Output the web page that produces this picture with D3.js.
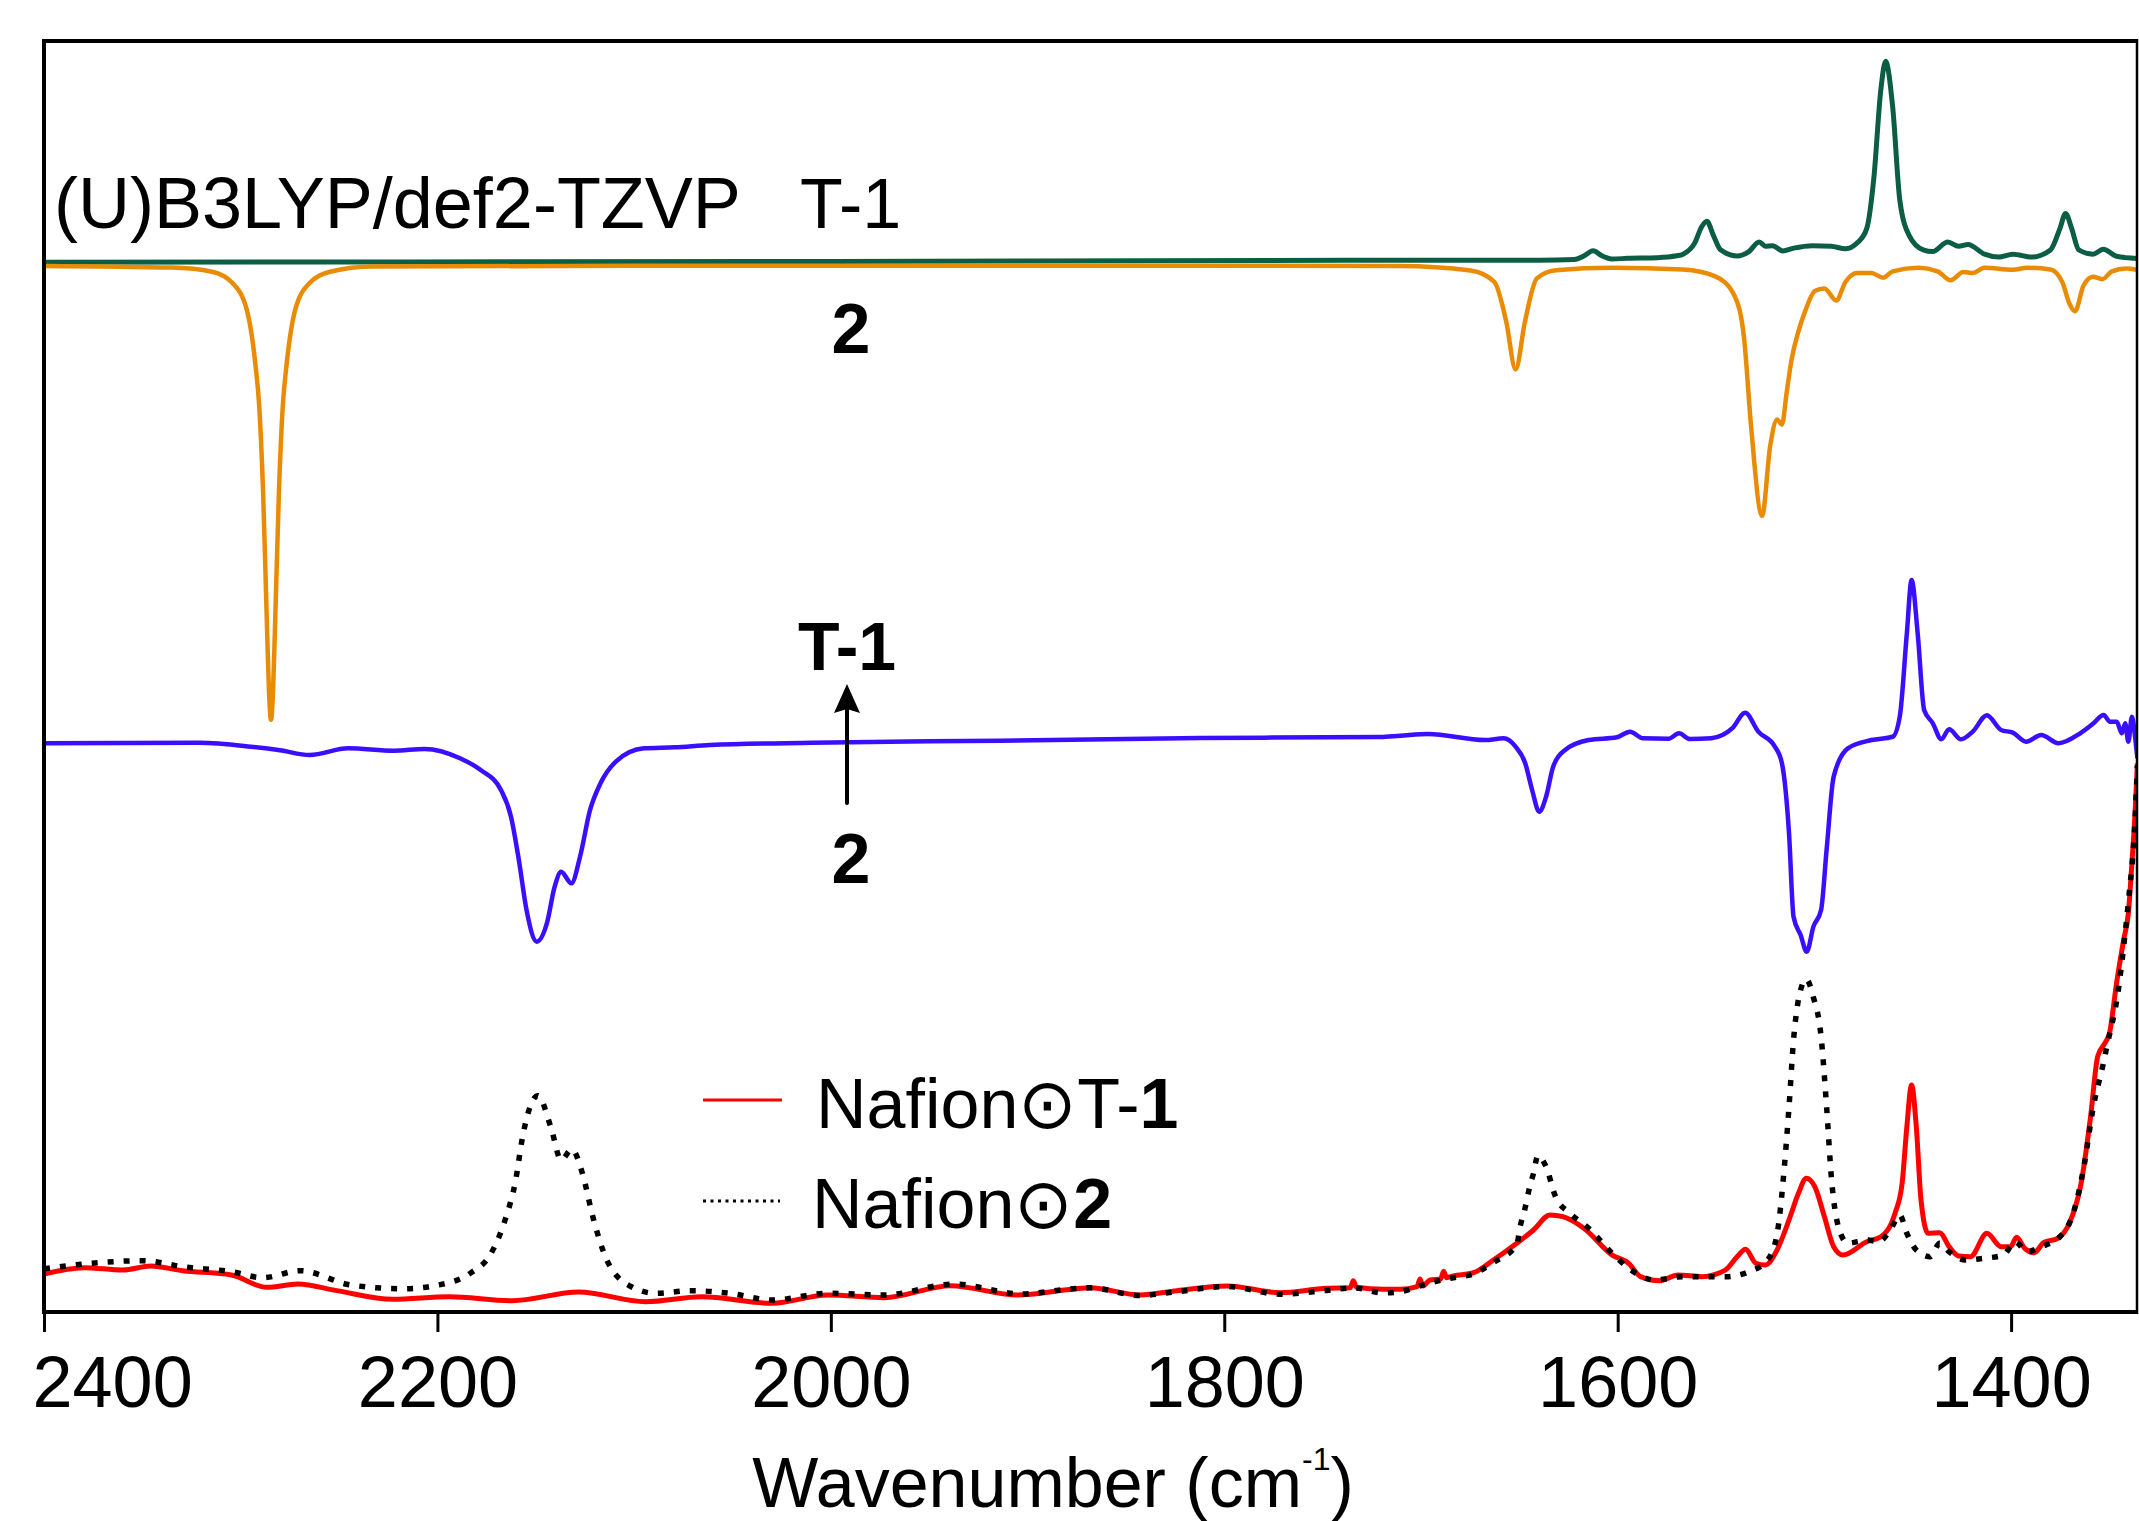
<!DOCTYPE html>
<html>
<head>
<meta charset="utf-8">
<title>IR spectra: T-1 vs 2</title>
<script src="https://cdn.jsdelivr.net/npm/d3@7"></script>
<style>
  html, body { margin: 0; padding: 0; background: #ffffff; }
  svg { display: block; }
  text { font-family: "Liberation Sans", Arial, Helvetica, sans-serif; fill: #000; }
</style>
</head>
<body>
<svg id="chart" width="2139" height="1521"></svg>
<script>
// ---- data: [wavenumber (cm-1), offset intensity (a.u.)] ----

// Calculated spectrum of T-1, (U)B3LYP/def2-TZVP
const calcT1 = [
  [2400, 82.6], [2000, 82.65], [1700, 82.75], [1640, 82.75], [1622, 82.8], [1617, 83.1],
  [1612.5, 83.5], [1608, 83.1], [1603, 82.85], [1595, 82.9], [1580, 82.95], [1570, 83.1],
  [1566.8, 83.23], [1560.8, 84.12], [1557.3, 85.39], [1554.7, 85.82], [1551.3, 84.69],
  [1547.7, 83.57], [1539.3, 83.09], [1533.3, 83.43], [1528.1, 84.19], [1524.9, 83.85],
  [1521.3, 83.9], [1516.1, 83.48], [1510.6, 83.7], [1500.9, 83.9], [1491.4, 83.85],
  [1484.2, 83.65], [1478.2, 84.12], [1473.4, 85.24], [1469.8, 89.18], [1466.2, 96.2],
  [1463.8, 98.4], [1460.2, 94.8], [1456.6, 87.5], [1451.8, 84.69], [1444.7, 83.57],
  [1439.9, 83.43], [1432.2, 84.19], [1426.7, 83.85], [1421.9, 83.99], [1413.5, 83.23],
  [1406.3, 83.0], [1399.1, 83.23], [1389.6, 83.0], [1380, 83.56], [1375.2, 85.24],
  [1372.3, 86.43], [1369.2, 85.24], [1365.6, 83.56], [1358.4, 83.23], [1353.1, 83.62],
  [1346.4, 83.06], [1336, 82.89]
];

// Calculated spectrum of 2 (drawn inverted)
const calc2 = [
  [2400, 82.3], [2335, 82.17], [2314.6, 81.85], [2304.2, 80.96], [2296.9, 78.84],
  [2292.5, 74.5], [2290.6, 71.3], [2288.6, 64.4], [2286.6, 53.7], [2285.6, 48.7],
  [2284.6, 46.6], [2283.6, 48.7], [2282.6, 53.7], [2280.6, 64.4], [2278.6, 71.3],
  [2276.7, 74.5], [2272.3, 78.84], [2265, 80.96], [2254.6, 81.85], [2232.7, 82.25],
  [2100, 82.32], [1900, 82.32], [1710.6, 82.3], [1674.7, 81.94], [1662.7, 81.04],
  [1656.7, 77.95], [1651.9, 74.16], [1647.1, 77.95], [1641.1, 81.32], [1631.5, 81.97],
  [1602.8, 82.16], [1566.8, 82.02], [1550.1, 81.46], [1540.5, 79.92], [1535.7, 76.54],
  [1532.1, 69.52], [1526.6, 62.64], [1522.5, 68.11], [1518.9, 70.22], [1516.5, 69.81],
  [1514.1, 72.33], [1511.7, 74.86], [1508.2, 77.11], [1504.6, 78.79], [1499.8, 80.33],
  [1494.9, 80.53], [1488.9, 79.58], [1484.2, 81.04], [1478.2, 81.74], [1471, 81.74],
  [1465, 81.38], [1460.2, 81.88], [1447.1, 82.16], [1437.4, 81.88], [1430.7, 81.18],
  [1424.3, 81.83], [1419.5, 81.74], [1413.5, 82.16], [1399.1, 82.0], [1391.9, 82.16],
  [1380, 82.02], [1374, 81.04], [1370.4, 79.35], [1367.5, 78.73], [1363.2, 80.76],
  [1358.4, 81.46], [1353.6, 81.26], [1348.8, 81.88], [1341.6, 82.1], [1336, 82.0]
];

// Experimental difference spectrum, 2 -> T-1
const diffExp = [
  [2400, 44.74], [2320.7, 44.79], [2294.8, 44.48], [2280, 44.2], [2264.9, 43.82],
  [2245.4, 44.35], [2222.1, 44.16], [2206.6, 44.3], [2188.5, 43.57], [2178, 42.64],
  [2167.7, 41.07], [2162.6, 38.97], [2158.6, 35.56], [2154.7, 31.63], [2149.5, 29.14],
  [2144.3, 30.61], [2140.4, 33.46], [2137.1, 34.64], [2131.9, 33.73], [2127.5, 35.82],
  [2122.4, 39.5], [2117.1, 41.6], [2109.3, 43.3], [2095, 44.35], [2079.4, 44.43],
  [2061.4, 44.61], [2009.5, 44.79], [1913.9, 44.95], [1812.3, 45.16], [1720.8, 45.24],
  [1710.6, 45.34], [1696.4, 45.48], [1667.5, 45.0], [1657.9, 45.14], [1651.9, 44.48],
  [1647, 43.17], [1643.5, 41.07], [1639.9, 39.36], [1636.4, 40.54], [1632.8, 42.9],
  [1626.7, 44.22], [1614.8, 45.0], [1600.4, 45.22], [1593.7, 45.66], [1587.2, 45.14],
  [1574.1, 45.11], [1568.8, 45.53], [1563.3, 45.08], [1552.5, 45.14], [1541.7, 45.93],
  [1535.2, 47.15], [1528.5, 45.66], [1520.1, 44.48], [1516.5, 43.17], [1512.9, 37.66],
  [1510.6, 31.1], [1507, 29.66], [1503.9, 28.35], [1500.5, 30.32], [1496.6, 31.63],
  [1493.8, 36.35], [1490.2, 42.12], [1483, 44.35], [1471, 45.0], [1460.2, 45.26],
  [1456.6, 46.84], [1453, 53.4], [1450.6, 57.59], [1447.5, 53.4], [1444.2, 47.36],
  [1439.8, 46.32], [1435.5, 45.06], [1431.5, 45.85], [1425.5, 45.06], [1419.5, 45.66],
  [1412.3, 46.95], [1405.1, 45.79], [1399.1, 45.58], [1392.4, 44.87], [1384.7, 45.4],
  [1375.9, 44.75], [1364.9, 45.53], [1358.1, 46.32], [1353, 46.97], [1349.7, 46.44],
  [1346.3, 46.44], [1343.7, 45.53], [1342, 46.32], [1340.4, 44.87], [1338.6, 46.84],
  [1337, 45.27], [1335.8, 43.57]
];

// Nafion film loaded with T-1
const nafionT1 = [
  [2400, 2.99], [2379.6, 3.49], [2359.9, 3.3], [2345.7, 3.62], [2329.6, 3.25],
  [2304.7, 2.91], [2286.8, 1.94], [2270.9, 2.2], [2251.2, 1.68], [2222.7, 1.0],
  [2194.1, 1.2], [2162.1, 0.89], [2128.2, 1.57], [2094.2, 0.81], [2065.7, 1.2],
  [2030, 0.68], [2001.5, 1.34], [1972.9, 1.13], [1939.1, 2.07], [1905.3, 1.34],
  [1876.7, 1.81], [1868.2, 1.91], [1842.8, 1.34], [1824.1, 1.68], [1798.7, 2.05],
  [1771.6, 1.52], [1747.9, 1.86], [1736, 1.9], [1734.4, 2.45], [1732.8, 1.95],
  [1719.1, 1.79], [1710.6, 1.79], [1702, 2.0], [1700.5, 2.6], [1699, 2.05],
  [1695.4, 2.52], [1690, 2.6], [1688.5, 3.2], [1687, 2.7], [1683.5, 2.83],
  [1673.3, 3.09], [1663.2, 4.09], [1651.3, 5.41], [1642.8, 6.45], [1634.4, 7.63],
  [1627.9, 7.5], [1617.2, 6.59], [1602.8, 4.48], [1594.4, 3.83], [1588.4, 2.78],
  [1578.8, 2.46], [1569.3, 2.91], [1557.3, 2.78], [1545.3, 3.3], [1539.3, 4.35],
  [1535, 4.93], [1529.7, 3.83], [1524.9, 3.7], [1519, 4.88], [1512.9, 7.24],
  [1508.1, 9.34], [1504.1, 10.52], [1499.8, 9.86], [1494.9, 7.5], [1490.2, 5.14],
  [1485.4, 4.48], [1473.4, 5.53], [1466.2, 5.92], [1459, 7.77], [1455.4, 10.13],
  [1453, 14.58], [1450.6, 17.86], [1448.2, 14.58], [1445.8, 8.81], [1442.2, 6.19],
  [1436.3, 6.24], [1431.5, 5.14], [1426.7, 4.41], [1420.7, 4.35], [1412.3, 6.19],
  [1405.1, 5.14], [1400.3, 5.14], [1397.2, 5.88], [1393.1, 5.01], [1388.3, 4.67],
  [1383.5, 5.45], [1376.3, 5.8], [1370.4, 6.98], [1364.4, 10.13], [1359.6, 15.37],
  [1356, 20.09], [1352.4, 21.14], [1350, 21.93], [1346.4, 25.86], [1342.8, 29.27],
  [1340.4, 31.37], [1338.6, 35.3], [1337, 39.24], [1335.8, 43.17]
];

// Nafion film loaded with 2
const nafion2 = [
  [2400, 3.4], [2376, 3.83], [2349.3, 4.04], [2329.6, 3.56], [2304.7, 3.17],
  [2288.7, 2.7], [2269.8, 3.25], [2244, 2.12], [2217.3, 1.83], [2199.5, 2.12],
  [2183.4, 3.04], [2172.7, 4.62], [2165.6, 7.24], [2160.2, 10.39], [2156.7, 13.79],
  [2148.9, 17.02], [2142.4, 14.58], [2137.1, 11.96], [2131.7, 12.8], [2126.3, 10.91],
  [2121, 7.5], [2113.9, 4.09], [2101.4, 1.99], [2088.9, 1.47], [2071.1, 1.68],
  [2051.4, 1.47], [2030, 0.94], [2001.5, 1.47], [1972.9, 1.34], [1937.4, 2.2],
  [1903.4, 1.42], [1876.7, 1.83], [1868.2, 1.9], [1842.8, 1.3], [1824.1, 1.6],
  [1798.7, 2.0], [1771.6, 1.4], [1747.9, 1.7], [1734.4, 1.9], [1719.1, 1.5],
  [1710.6, 1.6], [1695.4, 2.3], [1683.5, 2.7], [1673.3, 3.0], [1663.2, 3.9],
  [1651.3, 5.3], [1649.6, 6.71], [1647.3, 8.03], [1644.7, 9.86], [1642.8, 10.91],
  [1640.6, 12.3], [1636.4, 11.43], [1631.6, 9.07], [1624.3, 7.77], [1614.8, 6.59],
  [1602.8, 4.62], [1593.2, 3.3], [1581.2, 2.52], [1566.8, 2.78], [1545.3, 2.78],
  [1533.3, 3.17], [1523.8, 4.09], [1518.9, 6.19], [1515.7, 10.65], [1512.9, 16.15],
  [1510.6, 21.4], [1507.8, 24.81], [1504.1, 26.18], [1500.6, 24.81], [1496.6, 21.66],
  [1493.8, 16.15], [1491.4, 10.65], [1487.8, 6.71], [1483, 5.41], [1473.4, 5.66],
  [1467.4, 5.53], [1461.4, 6.45], [1456.6, 7.63], [1453, 6.19], [1448.2, 4.88],
  [1441.1, 4.35], [1436.3, 5.41], [1431.5, 4.74], [1423.1, 4.09], [1413.5, 4.23],
  [1403.9, 4.48], [1397.9, 5.53], [1391.9, 4.74], [1384.7, 5.14], [1375.2, 5.92],
  [1367.9, 8.03], [1363, 11.43], [1358.2, 16.15], [1353.5, 19.3], [1350.6, 21.4],
  [1346, 24.81], [1342.4, 29.27], [1340.3, 32.4], [1337, 38.7], [1335.8, 43.0]
];

const xTicks = [2400, 2200, 2000, 1800, 1600, 1400];
const xDomain = [2400, 1336];
const yDomain = [0, 100];

// ---- layout ----
const svg = d3.select("#chart");
const W = 2139, H = 1521;
const plot = { left: 44, right: 2137, top: 41, bottom: 1312 };

svg.append("rect").attr("width", W).attr("height", H).attr("fill", "#fff");

const x = d3.scaleLinear().domain(xDomain).range([plot.left, plot.right]);
const y = d3.scaleLinear().domain(yDomain).range([plot.bottom, plot.top]);

svg.append("defs").append("clipPath").attr("id", "plotClip")
  .append("rect")
  .attr("x", plot.left).attr("y", plot.top)
  .attr("width", plot.right - plot.left).attr("height", plot.bottom - plot.top);

const line = d3.line()
  .x(d => x(d[0]))
  .y(d => y(d[1]))
  .curve(d3.curveMonotoneX);

const curves = svg.append("g").attr("clip-path", "url(#plotClip)");

const series = [
  { data: calcT1,  color: "#0b5e44", width: 5 },
  { data: calc2,   color: "#ea8b05", width: 4.5 },
  { data: diffExp, color: "#3a0eff", width: 4.5 },
  { data: nafionT1, color: "#ff0000", width: 5 },
  { data: nafion2, color: "#000000", width: 5.5, dash: "6 10" }
];

series.forEach(s => {
  curves.append("path")
    .datum(s.data)
    .attr("fill", "none")
    .attr("stroke", s.color)
    .attr("stroke-width", s.width)
    .attr("stroke-linejoin", "round")
    .attr("stroke-dasharray", s.dash || null)
    .attr("d", line);
});

// ---- frame ----
const frame = svg.append("g").attr("stroke", "#000").attr("fill", "none");
frame.append("line").attr("x1", plot.left - 2).attr("x2", plot.right).attr("y1", plot.top).attr("y2", plot.top).attr("stroke-width", 4);
frame.append("line").attr("x1", plot.left - 2).attr("x2", plot.right + 1).attr("y1", plot.bottom).attr("y2", plot.bottom).attr("stroke-width", 4);
frame.append("line").attr("x1", plot.left).attr("x2", plot.left).attr("y1", plot.top - 2).attr("y2", plot.bottom + 2).attr("stroke-width", 4);
frame.append("line").attr("x1", plot.right).attr("x2", plot.right).attr("y1", plot.top - 2).attr("y2", plot.bottom + 2).attr("stroke-width", 2.5);

// ---- x axis ----
const xAxis = d3.axisBottom(x)
  .tickValues(xTicks)
  .tickSize(20)
  .tickPadding(24)
  .tickFormat(d3.format("d"));

const gx = svg.append("g")
  .attr("transform", `translate(0,${plot.bottom})`)
  .call(xAxis);
gx.select(".domain").remove();
gx.selectAll(".tick line").attr("stroke", "#000").attr("stroke-width", 3);
gx.selectAll(".tick text")
  .attr("fill", "#000")
  .style("font-family", "'Liberation Sans', Arial, sans-serif")
  .style("font-size", "72px");
// keep the first label inside the frame
gx.selectAll(".tick text").filter(d => d === 2400)
  .attr("text-anchor", "start").attr("x", -12);

const title = svg.append("text")
  .attr("x", 1053).attr("y", 1507)
  .attr("text-anchor", "middle")
  .style("font-size", "70px");
title.append("tspan").text("Wavenumber (cm");
title.append("tspan").attr("dy", -37).style("font-size", "32px").text("-1");
title.append("tspan").attr("dy", 37).text(")");

// ---- annotations ----
svg.append("text").attr("x", 54).attr("y", 228).style("font-size", "72px").text("(U)B3LYP/def2-TZVP");
svg.append("text").attr("x", 800).attr("y", 228).style("font-size", "70px").text("T-1");
svg.append("text").attr("x", 851).attr("y", 353).attr("text-anchor", "middle")
  .style("font-size", "70px").style("font-weight", "bold").text("2");

svg.append("text").attr("x", 847).attr("y", 670).attr("text-anchor", "middle")
  .style("font-size", "68px").style("font-weight", "bold").text("T-1");
svg.append("text").attr("x", 851).attr("y", 883).attr("text-anchor", "middle")
  .style("font-size", "70px").style("font-weight", "bold").text("2");

// arrow 2 -> T-1
svg.append("line")
  .attr("x1", 847).attr("x2", 847).attr("y1", 803).attr("y2", 706)
  .attr("stroke", "#000").attr("stroke-width", 4).attr("stroke-linecap", "round");
svg.append("path")
  .attr("d", "M847,684 L834,713 L847,709 L860,713 Z")
  .attr("fill", "#000");

// ---- legend ----
const legend = svg.append("g");
legend.append("line").attr("x1", 703).attr("x2", 782).attr("y1", 1100).attr("y2", 1100)
  .attr("stroke", "#ff0000").attr("stroke-width", 3);
const l1 = legend.append("text").attr("x", 816).attr("y", 1128).style("font-size", "70px");
l1.append("tspan").text("Nafion\u2299T-");
l1.append("tspan").style("font-weight", "bold").text("1");

legend.append("line").attr("x1", 703).attr("x2", 780).attr("y1", 1201).attr("y2", 1201)
  .attr("stroke", "#000").attr("stroke-width", 3).attr("stroke-dasharray", "3 4.5");
const l2 = legend.append("text").attr("x", 812).attr("y", 1228).style("font-size", "70px");
l2.append("tspan").text("Nafion\u2299");
l2.append("tspan").style("font-weight", "bold").text("2");
</script>
</body>
</html>
